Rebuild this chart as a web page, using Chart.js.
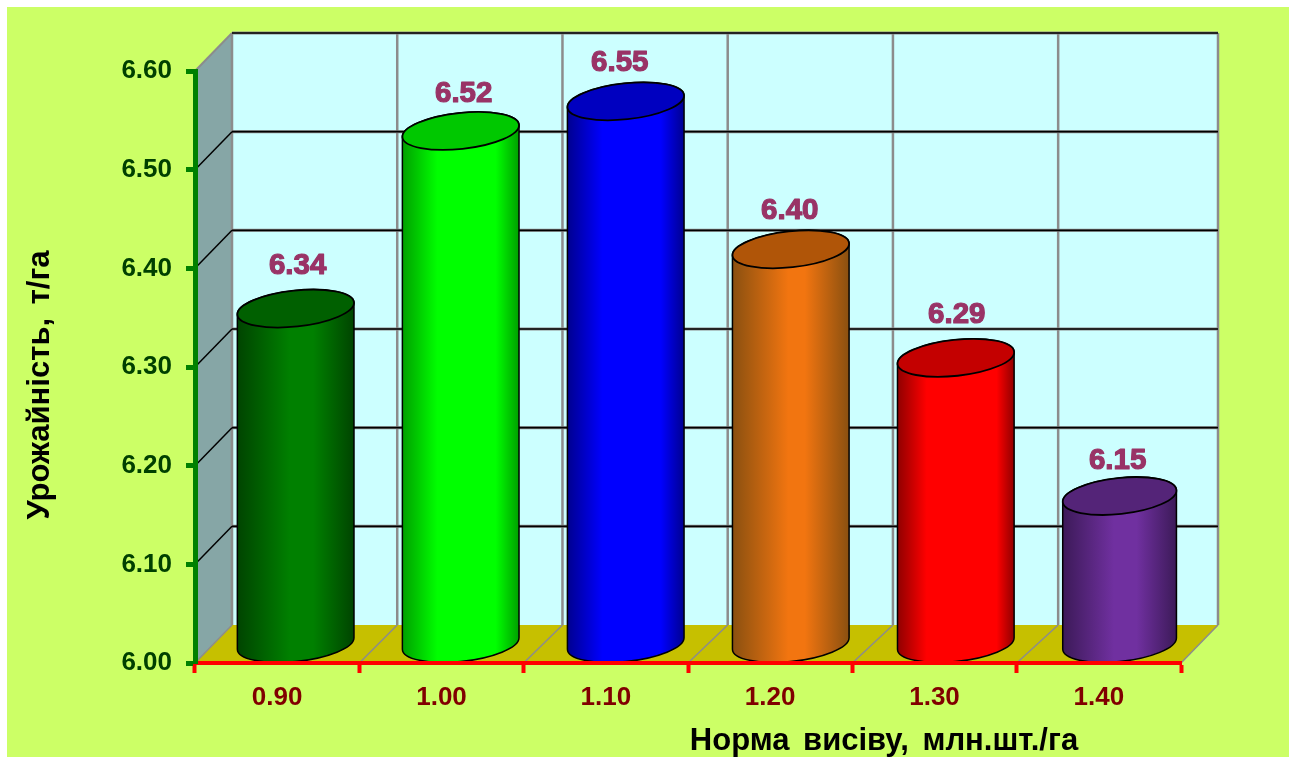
<!DOCTYPE html>
<html>
<head>
<meta charset="utf-8">
<title>Урожайність</title>
<script src="https://cdn.jsdelivr.net/npm/chart.js@4/dist/chart.umd.js"></script>
<style>
  html, body { margin: 0; padding: 0; background: #fff; overflow: hidden; }
  #panel { position: absolute; left: 7px; top: 7px; width: 1282px; height: 750px; background: #ccff66; }
  #wrap { position: absolute; left: 0; top: 0; width: 1293px; height: 757px; }
</style>
</head>
<body>
<div id="panel"></div>
<div id="wrap"><canvas id="yieldChart"></canvas></div>
<script>
// ---------------- DATA ----------------
const seedingRates = ["0.90", "1.00", "1.10", "1.20", "1.30", "1.40"];
const yields = [6.34, 6.52, 6.55, 6.40, 6.29, 6.15];
const yAxisTitle = "Урожайність, т/га";
const xAxisTitle = "Норма висіву, млн.шт./га";

// ---------------- COLOURS ----------------
const sideMid = ["#008000", "#00ff00", "#0000ff", "#f27510", "#ff0000", "#7030a0"];
const sideEdge = ["#004400", "#00a000", "#000090", "#8a5010", "#900000", "#3c1a58"];
const sideFlat = [0.45, 0.3, 0.3, 0.48, 0.25, 0.45]; // where the shading reaches full colour
const capColor = ["#006000", "#00c800", "#0000c0", "#b05508", "#c40000", "#542478"];

const FONT = '"Liberation Sans", Arial, sans-serif';
const DEPTH_X = 37;      // how far the back wall sits behind the axes
const DEPTH_Y = 38;
const TILT = -6.2 * Math.PI / 180;
const LABEL_NUDGE = [[2, -6], [3, 0], [-6, -1], [-1, -1], [1, -6], [-2, 2]];

// ---------------- BOX: WALLS AND FLOOR ----------------
function poly(ctx, pts, fill) {
  ctx.beginPath();
  pts.forEach((p, i) => i ? ctx.lineTo(p[0], p[1]) : ctx.moveTo(p[0], p[1]));
  ctx.closePath();
  ctx.fillStyle = fill;
  ctx.fill();
}

function seg(ctx, x1, y1, x2, y2, color, width) {
  ctx.beginPath();
  ctx.moveTo(x1, y1);
  ctx.lineTo(x2, y2);
  ctx.strokeStyle = color;
  ctx.lineWidth = width;
  ctx.stroke();
}

const boxPlugin = {
  id: "box",
  beforeDraw(chart) {
    const { ctx, chartArea: a, scales } = chart;
    const dx = DEPTH_X, dy = DEPTH_Y;
    ctx.save();
    poly(ctx, [[a.left + dx, a.top - dy], [a.right + dx, a.top - dy], [a.right + dx, a.bottom - dy], [a.left + dx, a.bottom - dy]], "#ccffff");
    poly(ctx, [[a.left, a.top], [a.left + dx, a.top - dy], [a.left + dx, a.bottom - dy], [a.left, a.bottom]], "#86a6a6");
    poly(ctx, [[a.left, a.bottom], [a.left + dx, a.bottom - dy], [a.right + dx, a.bottom - dy], [a.right, a.bottom]], "#c6c000");

    // vertical lines at category boundaries
    const n = seedingRates.length;
    const step = (a.right - a.left) / n;
    for (let i = 0; i <= n; i++) {
      const x = a.left + i * step;
      const backX = i === n ? x + dx : x + dx + i * 0.9;
      seg(ctx, backX, a.top - dy, backX, a.bottom - dy, "#8c8c8c", 2.5);
      seg(ctx, x, a.bottom, backX, a.bottom - dy, "#8c8c8c", 1.5);
    }
    seg(ctx, a.left, a.top, a.left + dx, a.top - dy, "#8c8c8c", 2);

    // value lines across the back wall and side wall
    scales.y.ticks.forEach(t => {
      if (t.value === scales.y.min) return;
      const y = scales.y.getPixelForValue(t.value);
      seg(ctx, a.left + dx, y - dy, a.right + dx, y - dy, "#8c8c8c", 3);
      seg(ctx, a.left + dx, y - dy, a.right + dx, y - dy, "#000", 1.6);
      if (t.value < scales.y.max) seg(ctx, a.left, y, a.left + dx, y - dy, "#000", 1.5);
    });
    ctx.restore();
  }
};

// ---------------- CYLINDERS ----------------
function cylinderX(bar, i) {
  return bar.x + DEPTH_X / 2 + i * (i === 5 ? 0.45 : 0.7);
}

function drawCylinder(ctx, bar, i) {
  const hw = bar.width / 2 * (i === 5 ? 0.975 : 1);
  const cx = cylinderX(bar, i);
  const topY = bar.y - DEPTH_Y / 2;
  const baseY = bar.base - DEPTH_Y / 2;
  const a = hw * 1.005, b = 18;
  const t0 = Math.atan(-(b / a) * Math.tan(TILT));
  const rx = a * Math.cos(t0) * Math.cos(TILT) - b * Math.sin(t0) * Math.sin(TILT);
  const ry = a * Math.cos(t0) * Math.sin(TILT) + b * Math.sin(t0) * Math.cos(TILT);

  const grad = ctx.createLinearGradient(cx - rx, 0, cx + rx, 0);
  grad.addColorStop(0, sideEdge[i]);
  grad.addColorStop(sideFlat[i], sideMid[i]);
  grad.addColorStop(1 - sideFlat[i] + 0.1, sideMid[i]);
  grad.addColorStop(1, sideEdge[i]);

  ctx.beginPath();
  ctx.moveTo(cx + rx, topY + ry);
  ctx.lineTo(cx + rx, baseY + ry);
  ctx.ellipse(cx, baseY, a, b, TILT, t0, t0 + Math.PI, false);
  ctx.lineTo(cx - rx, topY - ry);
  ctx.ellipse(cx, topY, a, b, TILT, t0 + Math.PI, t0 + 2 * Math.PI, false);
  ctx.closePath();
  ctx.fillStyle = grad;
  ctx.fill();
  ctx.strokeStyle = "#000";
  ctx.lineWidth = 1.5;
  ctx.stroke();

  ctx.beginPath();
  ctx.ellipse(cx, topY, a, b, TILT, 0, 2 * Math.PI);
  ctx.fillStyle = capColor[i];
  ctx.fill();
  ctx.lineWidth = 1.8;
  ctx.stroke();
}

const cylinderPlugin = {
  id: "cylinders",
  beforeDatasetDraw(chart, args) {
    const ctx = chart.ctx;
    ctx.save();
    args.meta.data.forEach((bar, i) => drawCylinder(ctx, bar, i));
    ctx.restore();
    return false; // the round shapes replace the default rectangles
  },
  afterDatasetsDraw(chart) {
    const ctx = chart.ctx;
    const meta = chart.getDatasetMeta(0);
    ctx.save();
    ctx.font = "bold 29.5px " + FONT;
    ctx.textAlign = "center";
    ctx.textBaseline = "middle";
    ctx.fillStyle = "#993366";
    ctx.strokeStyle = "#993366";
    ctx.lineWidth = 1.2;
    ctx.lineJoin = "round";
    meta.data.forEach((bar, i) => {
      const x = cylinderX(bar, i) + LABEL_NUDGE[i][0];
      const y = bar.y - 56 + LABEL_NUDGE[i][1];
      const text = yields[i].toFixed(2);
      ctx.strokeText(text, x, y);
      ctx.fillText(text, x, y);
    });
    ctx.restore();
  }
};

// ---------------- AXIS TITLES ----------------
const titlesPlugin = {
  id: "axisTitles",
  afterDraw(chart) {
    const ctx = chart.ctx;
    ctx.save();
    ctx.fillStyle = "#000";
    ctx.textAlign = "center";
    ctx.textBaseline = "middle";
    ctx.wordSpacing = "5px";
    ctx.font = "bold 31px " + FONT;
    ctx.fillText(xAxisTitle, 884, 741);
    ctx.translate(40, 385);
    ctx.rotate(-Math.PI / 2);
    ctx.fillText(yAxisTitle, 0, 0);
    ctx.restore();
  }
};

// ---------------- CHART SETUP ----------------
const yieldChart = new Chart(document.getElementById("yieldChart").getContext("2d"), {
  type: "bar",
  data: {
    labels: seedingRates,
    datasets: [{
      label: "Урожайність",
      data: yields,
      base: 6,
      backgroundColor: sideMid,
      categoryPercentage: 1,
      barPercentage: 0.71
    }]
  },
  plugins: [boxPlugin, cylinderPlugin, titlesPlugin],
  options: {
    responsive: true,
    maintainAspectRatio: false,
    animation: false,
    layout: { padding: { top: 71, right: 112, left: 0, bottom: 0 } },
    plugins: { legend: { display: false }, tooltip: { enabled: false } },
    scales: {
      x: {
        afterFit(scale) { scale.height = 94; },
        border: { color: "#ff0000", width: 4, z: 1 },
        grid: { z: 1, drawOnChartArea: false, drawTicks: true, tickColor: "#ff0000", tickWidth: 4, tickLength: 10 },
        ticks: { color: "#800000", font: { family: FONT, size: 26, weight: "bold" }, padding: 9, maxRotation: 0 }
      },
      y: {
        min: 6,
        max: 6.6,
        afterFit(scale) { scale.width = 195; },
        border: { color: "#008000", width: 5, z: 1 },
        grid: { z: 1, drawOnChartArea: false, drawTicks: true, tickColor: "#008000", tickWidth: 5, tickLength: 9 },
        ticks: {
          stepSize: 0.1,
          color: "#004000",
          font: { family: FONT, size: 26, weight: "bold" },
          padding: 14,
          callback: v => v.toFixed(2)
        }
      }
    }
  }
});
</script>
</body>
</html>
